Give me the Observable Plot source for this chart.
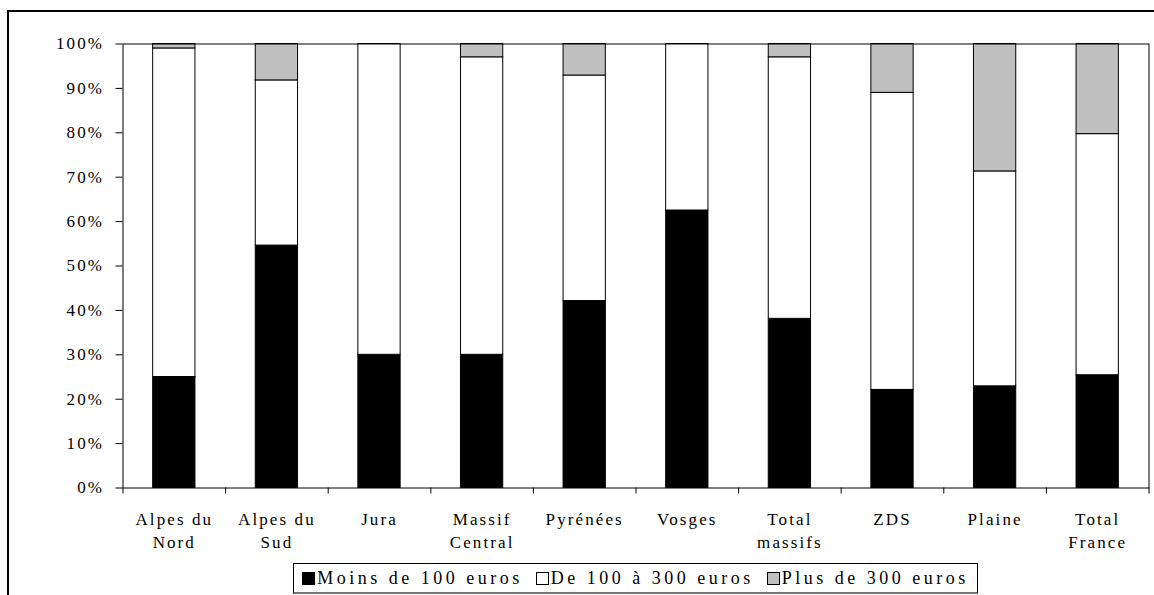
<!DOCTYPE html>
<html>
<head>
<meta charset="utf-8">
<script src="https://cdn.jsdelivr.net/npm/d3@7"></script>
<script src="https://cdn.jsdelivr.net/npm/@observablehq/plot@0.6"></script>
<style>
  html, body { margin: 0; padding: 0; background: #fff; overflow: hidden; }
  #border { position: absolute; left: 7px; top: 10px; width: 2000px; height: 2000px;
            border-top: 2px solid #000; border-left: 2px solid #000; pointer-events: none; }
  #chart { position: relative; width: 1154px; }
  #legend-wrap { display: flex; justify-content: center; padding-left: 122.5px; padding-right: 5.5px; margin-top: 8px; }
  #legend { display: flex; align-items: center; height: 28px; border: 1px solid #000; border-bottom: 2px solid #777;
            padding: 0 8px; font-family: "Liberation Serif", serif; font-size: 18px; letter-spacing: 3.5px; color: #000; }
  #legend .item { display: flex; align-items: center; margin-right: 13px; }
  #legend .item:last-child { margin-right: 0; }
  #legend .sw { width: 13px; height: 13px; border: 1px solid #000; margin-right: 2px; box-sizing: border-box; }
</style>
</head>
<body>
<div id="border"></div>
<div id="chart"></div>
<script>
// ---- data ----
const categories = ["Alpes du\nNord", "Alpes du\nSud", "Jura", "Massif\nCentral", "Pyrénées", "Vosges", "Total\nmassifs", "ZDS", "Plaine", "Total\nFrance"];
const series = ["Moins de 100 euros", "De 100 à 300 euros", "Plus de 300 euros"];
const seriesColors = ["#000000", "#ffffff", "#c0c0c0"];
const moins100 = [25, 54.6, 30, 30, 42.1, 62.5, 38.1, 22.1, 22.9, 25.4];
const de100a300 = [74, 37.2, 70, 67, 50.8, 37.5, 58.9, 66.9, 48.4, 54.3];
const plus300 = [1, 8.2, 0, 3, 7.1, 0, 3, 11, 28.7, 20.3];
const yTicks = [0, 10, 20, 30, 40, 50, 60, 70, 80, 90, 100];

// ---- table ----
const seriesValues = [moins100, de100a300, plus300];
const rows = [];
categories.forEach((c, i) => {
  seriesValues.forEach((arr, j) => {
    if (arr[i] > 0) rows.push({cat: c, series: series[j], value: arr[i]});
  });
});

const W = 1154, H = 555, mL = 122.5, mR = 5.5, mT = 43.5, mB = 67.5;
const step = (W - mL - mR) / categories.length;
const pad = 0.588;

const chart = Plot.plot({
  width: W, height: H,
  marginLeft: mL, marginRight: mR, marginTop: mT, marginBottom: mB,
  style: {fontFamily: "'Liberation Serif', serif", fontSize: "17px", background: "transparent", overflow: "visible", letterSpacing: "2.1px", color: "#000"},
  x: {domain: categories, paddingInner: pad, paddingOuter: pad / 2, round: false, label: null},
  y: {domain: [0, 100], label: null},
  color: {domain: series, range: seriesColors},
  marks: [
    Plot.barY(rows, {x: "cat", y: "value", fill: "series", stroke: "#000", strokeWidth: 1}),
    Plot.frame({stroke: "#000", strokeWidth: 1}),
    Plot.axisY({ticks: yTicks, tickSize: 7, tickPadding: 12, tickFormat: d => d + "%", fontSize: 17, stroke: "#000", label: null}),
    Plot.axisX({tickSize: 6, text: null, dx: -step / 2, stroke: "#000", label: null}),
    Plot.axisX({ticks: [categories[categories.length - 1]], tickSize: 6, text: null, dx: step / 2, stroke: "#000", label: null}),
    Plot.text(categories, {x: d => d, text: d => d, frameAnchor: "bottom", lineAnchor: "top", dy: 21, lineHeight: 1.33, fontSize: 17, fill: "#000"})
  ]
});
document.getElementById("chart").appendChild(chart);

// ---- legend ----
const wrap = document.createElement("div");
wrap.id = "legend-wrap";
const legend = document.createElement("div");
legend.id = "legend";
series.forEach((s, j) => {
  const item = document.createElement("div");
  item.className = "item";
  const sw = document.createElement("span");
  sw.className = "sw";
  sw.style.background = seriesColors[j];
  const t = document.createElement("span");
  t.textContent = s;
  item.appendChild(sw);
  item.appendChild(t);
  legend.appendChild(item);
});
wrap.appendChild(legend);
document.getElementById("chart").appendChild(wrap);
</script>
</body>
</html>
